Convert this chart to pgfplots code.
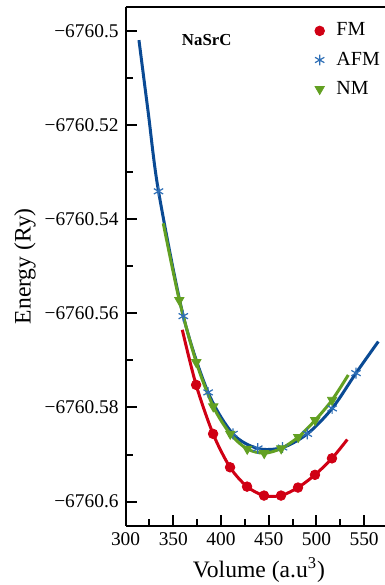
\documentclass[border=0pt]{standalone}
\usepackage{fontspec}
\setmainfont{Liberation Serif}
\usepackage{pgfplots}
\usepackage{pgfplotstable}
\pgfplotsset{compat=1.18}

\definecolor{fmred}{RGB}{208,0,20}
\definecolor{afmline}{RGB}{10,74,148}
\definecolor{afmmark}{RGB}{45,110,182}
\definecolor{nmgreen}{RGB}{98,160,34}

% E(V) data, Ry vs a.u^3
\pgfplotstableread{
V      E
373.9  -6760.5752
391.7  -6760.5856
409.5  -6760.5927
427.3  -6760.5968
445.1  -6760.5987
462.9  -6760.5987
480.7  -6760.5970
498.5  -6760.5943
516.3  -6760.5908
}\fmdata
\pgfplotstableread{
V      E
334.5  -6760.5341
360.5  -6760.5606
386.5  -6760.5768
412.5  -6760.5856
438.5  -6760.5887
464.5  -6760.5885
490.5  -6760.5856
516.5  -6760.5802
541.5  -6760.5727
}\afmdata
\pgfplotstableread{
V      E
356.3  -6760.5572
374.1  -6760.5704
391.9  -6760.5798
409.7  -6760.5856
427.5  -6760.5888
445.3  -6760.5897
463.1  -6760.5887
480.9  -6760.5863
498.7  -6760.5827
516.5  -6760.5784
}\nmdata
% fitted equation-of-state curves
\pgfplotstableread{
V      E
359.4  -6760.5635
373.9  -6760.5752
391.7  -6760.5856
409.5  -6760.5927
427.3  -6760.5968
445.1  -6760.5987
462.9  -6760.5987
480.7  -6760.5970
498.5  -6760.5943
516.3  -6760.5908
532.4  -6760.5868
}\fmfit
\pgfplotstableread{
V      E
314.0  -6760.5020
323.8  -6760.5175
334.5  -6760.5341
360.5  -6760.5606
386.5  -6760.5768
412.5  -6760.5856
438.5  -6760.5887
464.5  -6760.5885
490.5  -6760.5856
516.5  -6760.5802
541.5  -6760.5727
564.9  -6760.5660
}\afmfit
\pgfplotstableread{
V      E
339.5  -6760.5409
356.3  -6760.5572
374.1  -6760.5704
391.9  -6760.5798
409.7  -6760.5856
427.5  -6760.5888
445.3  -6760.5897
463.1  -6760.5887
480.9  -6760.5863
498.7  -6760.5827
516.5  -6760.5784
533.4  -6760.5731
}\nmfit

\begin{document}
\begin{tikzpicture}
\begin{axis}[
  scale only axis,
  width=129.7bp, height=259.5bp,
  xmin=300, xmax=571.9,
  ymin=-6760.6051, ymax=-6760.4949,
  % energies differ only in the last digits: shift them exactly before plotting
  y coord trafo/.code={\edef\pgfmathresult{\fpeval{(#1)+6760}}},
  axis x line*=bottom, axis y line*=left,
  axis line style={line width=1bp},
  every tick/.style={line width=1bp, black},
  tick align=inside,
  major tick length=5.5bp, minor tick length=3.5bp,
  xtick={300,350,400,450,500,550},
  minor x tick num=1,
  ytick={-6760.6,-6760.58,-6760.56,-6760.54,-6760.52,-6760.5},
  yticklabels={−6760.6,−6760.58,−6760.56,−6760.54,−6760.52,−6760.5},
  minor y tick num=1,
  ticklabel style={font=\fontsize{9.7bp}{11bp}\selectfont},
  /pgf/number format/assume math mode=true,
  xlabel={Volume (a.u\textsuperscript{3})},
  ylabel={Energy (Ry)},
  label style={font=\fontsize{11.8bp}{14bp}\selectfont},
  xlabel style={at={(rel axis cs:0.514,-0.0854)}, anchor=center},
  ylabel style={at={(rel axis cs:-0.3878,0.5)}, anchor=center},
  clip=false,
  legend cell align=left,
  legend image code/.code={\draw[#1] plot coordinates {(0bp,0bp)}; \path (-3bp,0bp) (6.2bp,0bp);},
  legend style={at={(rel axis cs:0.699,0.985)}, anchor=north west,
    draw=none, fill=none, row sep=2.5bp,
    font=\fontsize{10bp}{11bp}\selectfont},
]
\coordinate (bl) at (rel axis cs:0,0);
\coordinate (tr) at (rel axis cs:1,1);
\draw[line width=1bp] (rel axis cs:0,1) -- (rel axis cs:1,1);

\addplot[forget plot, smooth, line width=1.5bp, afmline] table[x=V,y=E] {\afmfit};
\addplot[forget plot, smooth, line width=1.5bp, nmgreen] table[x=V,y=E] {\nmfit};
\addplot[forget plot, smooth, line width=1.5bp, fmred] table[x=V,y=E] {\fmfit};

\addplot[only marks, mark=*, mark size=2.4bp, fmred, mark options={fill=fmred, draw=fmred}] table[x=V,y=E] {\fmdata};
\addlegendentry{FM}
\addplot[only marks, mark=asterisk, mark size=2.7bp, afmmark, mark options={line width=0.6bp}] table[x=V,y=E] {\afmdata};
\addlegendentry{AFM}
\addplot[only marks, mark=triangle*, mark size=2.7bp, nmgreen, mark options={rotate=180, fill=nmgreen, draw=nmgreen}] table[x=V,y=E] {\nmdata};
\addlegendentry{NM}

\node[font=\bfseries\fontsize{8.4bp}{10bp}\selectfont] at (rel axis cs:0.3127,0.9358) {NaSrC};
\end{axis}
\pgfresetboundingbox
\path[use as bounding box] ([xshift=-62.8bp,yshift=-29.65bp]bl) rectangle ([yshift=3.35bp]tr);
\end{tikzpicture}
\end{document}
